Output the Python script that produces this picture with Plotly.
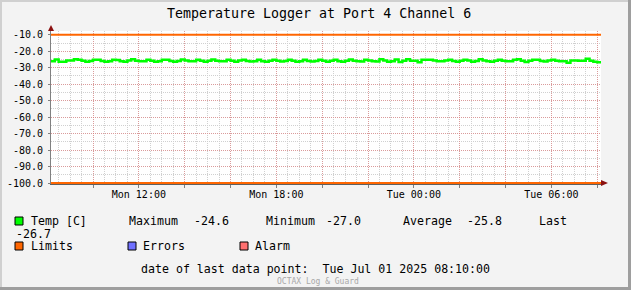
import plotly.graph_objects as go
import pandas as pd

# ---------------- data ----------------
start_time = "2025-06-30 08:10:00"
end_time = "2025-07-01 08:10:00"
step_minutes = 10

temp_values = [
    -25.9, -26.0, -25.0, -26.4, -26.3, -25.6,
    -25.6, -24.9, -25.1, -25.7, -26.4, -25.9,
    -25.1, -25.2, -25.9, -26.3, -26.0, -25.2,
    -25.3, -26.0, -26.4, -25.6, -24.9, -25.7,
    -26.0, -26.0, -25.1, -25.7, -26.3, -26.0,
    -25.1, -25.1, -25.9, -26.4, -25.9, -25.0,
    -25.6, -26.0, -26.1, -25.1, -25.8, -26.4,
    -25.7, -25.0, -25.7, -26.0, -26.1, -25.2,
    -25.8, -26.3, -25.6, -25.1, -25.9, -26.2,
    -26.0, -25.2, -26.0, -26.4, -25.7, -25.1,
    -25.8, -26.2, -25.9, -25.1, -25.7, -26.4,
    -26.0, -25.1, -25.9, -26.2, -25.9, -25.2,
    -25.8, -26.3, -25.7, -25.1, -26.0, -26.4,
    -25.8, -25.0, -25.7, -26.0, -26.2, -25.2,
    -25.6, -26.0, -26.2, -24.9, -25.6, -26.4,
    -26.0, -25.0, -26.5, -25.8, -24.8, -25.7,
    -25.8, -26.6, -25.2, -25.1, -25.2, -25.6,
    -26.0, -26.0, -25.6, -25.2, -25.9, -26.3,
    -25.7, -25.1, -25.6, -26.4, -25.9, -24.9,
    -25.6, -26.0, -26.4, -25.8, -25.1, -25.7,
    -26.0, -26.0, -25.1, -24.8, -25.7, -26.5,
    -25.7, -25.2, -25.2, -25.9, -26.2, -25.6,
    -25.1, -25.7, -26.0, -26.0, -27.0, -25.6,
    -25.6, -25.7, -25.7, -24.6, -25.8, -26.3,
    -26.7,
]
limit_upper = -10.0
limit_lower = -100.0

y_ticks = [-100, -90, -80, -70, -60, -50, -40, -30, -20, -10]
x_label_times = ["2025-06-30 10:00", "2025-06-30 12:00", "2025-06-30 14:00",
                 "2025-06-30 16:00", "2025-06-30 18:00", "2025-06-30 20:00",
                 "2025-06-30 22:00", "2025-07-01 00:00", "2025-07-01 02:00",
                 "2025-07-01 04:00", "2025-07-01 06:00", "2025-07-01 08:00"]
x_label_text = ["", "Mon 12:00", "", "", "Mon 18:00", "", "",
                "Tue 00:00", "", "", "Tue 06:00", ""]

title_text = "Temperature Logger at Port 4 Channel 6"
stats_labels = ["Maximum", "Minimum", "Average", "Last"]
stats_values = ["-24.6", "-27.0", "-25.8", "-26.7"]
series_name = "Temp [C]"
legend_names = ["Limits", "Errors", "Alarm"]
legend_colors = ["#ff6600", "#7070ff", "#ff7070"]
last_point_text = "date of last data point:  Tue Jul 01 2025 08:10:00"
footer_text = "OCTAX Log & Guard"

times = pd.date_range(start_time, periods=len(temp_values), freq=f"{step_minutes}min")

# ---------------- layout helpers ----------------
W, H = 631, 290
PL, PR, PT, PB = 51, 601, 31, 184
PW, PH = PR - PL, PB - PT


def fx(x):
    return (x - PL) / PW


def fy(y):
    return (PB - y) / PH


MONO = "DejaVu Sans Mono"

fig = go.Figure()

fig.add_trace(go.Scatter(
    x=[times[0], times[-1]], y=[limit_upper, limit_upper], mode="lines",
    line=dict(color="#ff6600", width=2), hoverinfo="skip", showlegend=False))
fig.add_trace(go.Scatter(
    x=[times[0], times[-1]], y=[limit_lower, limit_lower], mode="lines",
    line=dict(color="#ff6600", width=2), hoverinfo="skip", showlegend=False))
fig.add_trace(go.Scatter(
    x=times, y=temp_values, mode="lines", line=dict(color="#00ff00", width=2.5, shape="vh"),
    showlegend=False))

MGRID = "rgba(230,90,90,0.45)"
GRID = "#d0d0d0"

fig.update_layout(
    template="none",
    width=W, height=H,
    margin=dict(l=PL, r=W - PR, t=PT, b=H - PB, pad=0, autoexpand=False),
    paper_bgcolor="#f3f3f3", plot_bgcolor="#ffffff",
    showlegend=False,
    font=dict(family=MONO, size=10, color="#000000"),
    xaxis=dict(
        type="date", range=[start_time, end_time], automargin=False,
        tickmode="array", tickvals=x_label_times, ticktext=x_label_text,
        showgrid=True, gridcolor=MGRID, griddash="1px,1px", gridwidth=1,
        ticks="outside", ticklen=3, tickcolor="#808080", tickwidth=1,
        ticklabelstandoff=-2,
        showline=True, linecolor="#606060", linewidth=1,
        zeroline=False, tickfont=dict(family=MONO, size=10),
        minor=dict(tickmode="linear", tick0="2025-06-30 00:00", dtick=30 * 60 * 1000,
                   showgrid=True, gridcolor=GRID, griddash="1px,1px", gridwidth=1,
                   ticks=""),
    ),
    yaxis=dict(
        range=[-100.6, -7.7], automargin=False, tickmode="array", tickvals=y_ticks,
        ticktext=[f"{v:.1f}" for v in y_ticks],
        showgrid=True, gridcolor=MGRID, griddash="1px,1px", gridwidth=1,
        ticks="outside", ticklen=2, tickcolor="#808080", tickwidth=1,
        showline=True, linecolor="#808080", linewidth=1,
        zeroline=False, ticklabelstandoff=3, tickfont=dict(family=MONO, size=10),
        minor=dict(tickmode="linear", tick0=-100, dtick=5,
                   showgrid=True, gridcolor=GRID, griddash="1px,1px", gridwidth=1),
    ),
)

shapes = []
# frame shading
shapes.append(dict(type="rect", xref="paper", yref="paper", x0=fx(0), x1=fx(W), y0=fy(0), y1=fy(2),
                   fillcolor="#d0d0d0", line=dict(width=0), layer="above"))
shapes.append(dict(type="rect", xref="paper", yref="paper", x0=fx(0), x1=fx(2), y0=fy(0), y1=fy(H),
                   fillcolor="#d0d0d0", line=dict(width=0), layer="above"))
shapes.append(dict(type="rect", xref="paper", yref="paper", x0=fx(W - 3), x1=fx(W), y0=fy(0), y1=fy(H),
                   fillcolor="#9e9e9e", line=dict(width=0), layer="above"))
shapes.append(dict(type="rect", xref="paper", yref="paper", x0=fx(0), x1=fx(W), y0=fy(H - 3), y1=fy(H),
                   fillcolor="#9e9e9e", line=dict(width=0), layer="above"))
# axis extension + arrows
ARROW = "#8b1010"
shapes.append(dict(type="line", xref="paper", yref="paper", x0=fx(51), x1=fx(51), y0=fy(31), y1=fy(29),
                   line=dict(color="#808080", width=1), layer="above"))
shapes.append(dict(type="path", xref="paper", yref="paper",
                   path=f"M {fx(48)} {fy(31)} L {fx(54)} {fy(31)} L {fx(51)} {fy(25)} Z",
                   fillcolor=ARROW, line=dict(width=0), layer="above"))
shapes.append(dict(type="path", xref="paper", yref="paper",
                   path=f"M {fx(601)} {fy(180)} L {fx(601)} {fy(186)} L {fx(608)} {fy(183)} Z",
                   fillcolor=ARROW, line=dict(width=0), layer="above"))
# legend squares
sq = [(15, 217, "#00ff00"), (15, 242, legend_colors[0]), (128, 242, legend_colors[1]),
      (240, 242, legend_colors[2])]
for x0, y0, c in sq:
    shapes.append(dict(type="rect", xref="paper", yref="paper", x0=fx(x0), x1=fx(x0 + 8),
                       y0=fy(y0 + 8), y1=fy(y0), fillcolor=c,
                       line=dict(color="#000000", width=1), layer="above"))
fig.update_layout(shapes=shapes)

ann = []


def text(x, y, s, size=11.6, color="#000000", anchor="left"):
    ann.append(dict(x=fx(x), y=fy(y), xref="paper", yref="paper", text=s, showarrow=False,
                    xanchor=anchor, yanchor="middle", borderpad=0,
                    font=dict(family=MONO, size=size, color=color)))


text(319, 14, title_text, size=13.3, anchor="center")
text(30, 221, series_name)
stat_x = [(128, 193), (265, 325), (402, 466)]
for (lx, vx), lab, val in zip(stat_x, stats_labels[:3], stats_values[:3]):
    text(lx, 221, lab)
    text(vx, 221, val)
text(538, 221, stats_labels[3])
text(15, 233.5, stats_values[3])
text(30, 246, legend_names[0])
text(142, 246, legend_names[1])
text(254, 246, legend_names[2])
text(140, 269, last_point_text)
text(318, 281, footer_text, size=8, color="#a8a8a8", anchor="center")
fig.update_layout(annotations=ann)

fig.write_html("out.html")
